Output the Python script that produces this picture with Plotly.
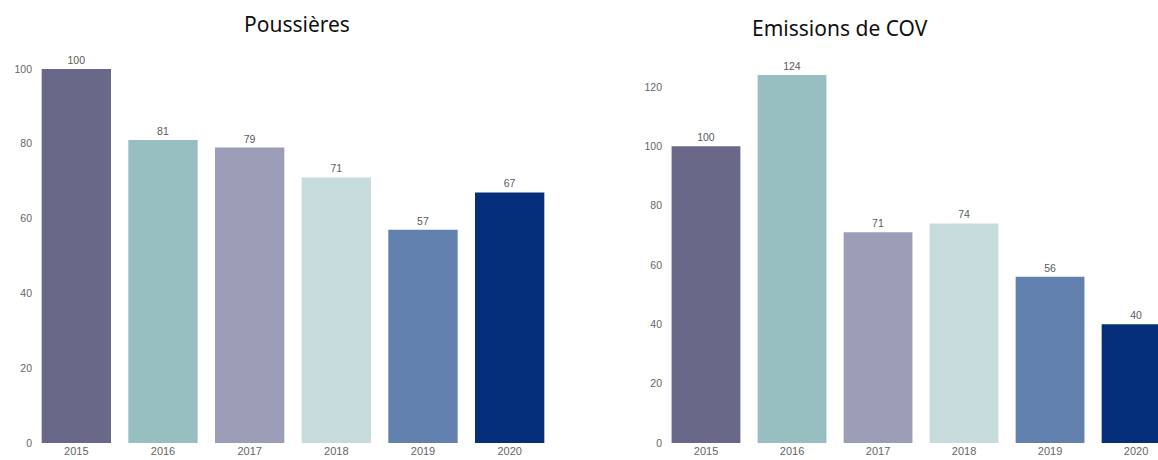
import plotly.graph_objects as go

years = ["2015", "2016", "2017", "2018", "2019", "2020"]
poussieres = [100, 81, 79, 71, 57, 67]
cov = [100, 124, 71, 74, 56, 40]
colors = ["#6a6888", "#97bec0", "#9c9db6", "#c6dbdb", "#6281ae", "#062f7b"]

W, H = 1158, 460
xtick_font = dict(family="Liberation Sans, Arial", size=11, color="#666666")
ytick_font = dict(family="Liberation Sans, Arial", size=10.5, color="#666666")
label_font = dict(family="Liberation Sans, Arial", size=10.5, color="#5a5a5a")

fig = go.Figure()
fig.add_trace(go.Bar(x=years, y=poussieres, marker=dict(color=colors, line=dict(width=0)),
                     text=[str(v) for v in poussieres], textposition="outside",
                     textfont=label_font, cliponaxis=False, xaxis="x", yaxis="y",
                     showlegend=False, hoverinfo="x+y"))
fig.add_trace(go.Bar(x=years, y=cov, marker=dict(color=colors, line=dict(width=0)),
                     text=[str(v) for v in cov], textposition="outside",
                     textfont=label_font, cliponaxis=True, xaxis="x2", yaxis="y2",
                     showlegend=False, hoverinfo="x+y"))

top_px, zero_px = 40, 443
plot_h = zero_px - top_px
fig.update_layout(
    width=W, height=H,
    margin=dict(l=0, r=0, t=top_px, b=H - zero_px),
    paper_bgcolor="white", plot_bgcolor="white",
    bargap=0.2,
    xaxis=dict(domain=[33 / W, 553 / W], type="category", showgrid=False, zeroline=False,
               showline=False, ticks="", tickfont=xtick_font, range=[-0.5, 5.5]),
    yaxis=dict(anchor="x", range=[0, plot_h / 3.74], showgrid=False, zeroline=False,
               showline=False, ticks="", tickvals=[0, 20, 40, 60, 80, 100], tickfont=ytick_font),
    xaxis2=dict(domain=[663 / W, 1.0], anchor="y2", type="category", showgrid=False, zeroline=False,
                showline=False, ticks="", tickfont=xtick_font, range=[-0.5, 5.255]),
    yaxis2=dict(anchor="x2", range=[0, plot_h / 2.967], showgrid=False, zeroline=False,
                showline=False, ticks="", tickvals=[0, 20, 40, 60, 80, 100, 120], tickfont=ytick_font),
    annotations=[
        dict(text="Poussières", x=297 / W, y=1 + (top_px - 24) / plot_h, xref="paper", yref="paper",
             xanchor="center", yanchor="middle", showarrow=False,
             font=dict(family="Noto Sans, Open Sans", size=21, color="#111111")),
        dict(text="Emissions de COV", x=840 / W, y=1 + (top_px - 28) / plot_h, xref="paper", yref="paper",
             xanchor="center", yanchor="middle", showarrow=False,
             font=dict(family="Noto Sans, Open Sans", size=21, color="#111111")),
    ],
)

fig.write_html("out.html", config={"displayModeBar": False},
               post_script="document.body.style.margin='0';")
